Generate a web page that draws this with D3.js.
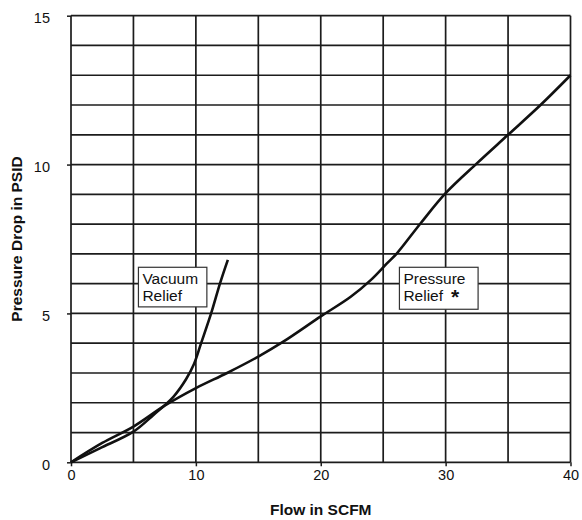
<!doctype html>
<html>
<head>
  <meta charset="utf-8">
  <title>Pressure drop vs flow</title>
  <script src="https://cdn.jsdelivr.net/npm/d3@7"></script>
  <style>
    body { margin: 0; background: #fff; }
    svg text { font-family: "Liberation Sans", Arial, Helvetica, sans-serif; fill: #111; }
  </style>
</head>
<body>
  <svg id="chart" width="582" height="520"></svg>

  <script>
  // values
  const xTicks = [0, 10, 20, 30, 40];
  const yTicks = [0, 5, 10, 15];
  const xGrid = [0, 5, 10, 15, 20, 25, 30, 35, 40];
  const yGrid = [0, 1, 2, 3, 4, 5, 6, 7, 8, 9, 10, 11, 12, 13, 14, 15];

  const pressureFlow = [0, 2.5, 5, 7.5, 10, 12.5, 15, 17, 20, 22.4, 24, 25.3, 26.1, 28, 30, 32.5, 35, 37.6, 40];
  const pressureDrop = [0, 0.65, 1.2, 1.9, 2.49, 3.0, 3.55, 4.05, 4.9, 5.56, 6.12, 6.68, 7.02, 8.03, 9.04, 10.04, 11.0, 12.0, 13.0];

  const vacuumFlow = [0, 2.3, 5, 6.6, 8.2, 9.2, 9.85, 10.42, 11.22, 11.94, 12.56];
  const vacuumDrop = [0, 0.47, 1.03, 1.59, 2.2, 2.78, 3.3, 4.0, 5.0, 6.02, 6.8];

  // annotation boxes: [x0, x1, yTop, yBottom] in data units
  const vacuumBox = [5.4, 10.88, 6.55, 5.22];
  const pressureBox = [26.3, 32.6, 6.55, 5.14];

  let svg = d3.select("#chart");

  let x = d3.scaleLinear().domain([0, 40]).range([71, 570.5]);
  let y = d3.scaleLinear().domain([0, 15]).range([462.3, 15.7]);

  // grid
  let grid = svg.append("g")
    .attr("stroke", "#1c1c1c")
    .attr("stroke-width", 1.7);

  grid.selectAll(".vline")
    .data(xGrid)
    .enter().append("line")
    .attr("x1", d => x(d)).attr("x2", d => x(d))
    .attr("y1", y(0)).attr("y2", y(15));

  grid.selectAll(".hline")
    .data(yGrid)
    .enter().append("line")
    .attr("x1", x(0)).attr("x2", x(40))
    .attr("y1", d => y(d)).attr("y2", d => y(d));

  // axes
  let xAxis = svg.append("g")
    .attr("transform", "translate(0," + y(0) + ")")
    .call(d3.axisBottom(x).tickValues(xTicks).tickSize(4).tickPadding(3));

  let yAxis = svg.append("g")
    .attr("transform", "translate(" + x(0) + ",0)")
    .call(d3.axisLeft(y).tickValues(yTicks).tickSize(4).tickPadding(17));

  [xAxis, yAxis].forEach(a => {
    a.select(".domain").remove();
    a.selectAll(".tick line").attr("stroke", "#1c1c1c").attr("stroke-width", 1.5);
    a.selectAll(".tick text")
      .style("font-family", "'Liberation Sans', Arial, sans-serif")
      .style("font-size", "14.5px")
      .attr("fill", "#111");
  });
  yAxis.selectAll(".tick text").attr("dy", "0.5em");

  // curves
  let line = d3.line()
    .x(d => x(d[0]))
    .y(d => y(d[1]))
    .curve(d3.curveCatmullRom.alpha(0.5));

  svg.append("path")
    .datum(pressureFlow.map((f, i) => [f, pressureDrop[i]]))
    .attr("d", line)
    .attr("fill", "none")
    .attr("stroke", "#111")
    .attr("stroke-width", 2.6);

  svg.append("path")
    .datum(vacuumFlow.map((f, i) => [f, vacuumDrop[i]]))
    .attr("d", line)
    .attr("fill", "none")
    .attr("stroke", "#111")
    .attr("stroke-width", 2.6);

  // annotation boxes
  function labelBox(box, lines, star) {
    let g = svg.append("g");
    g.append("rect")
      .attr("x", x(box[0]))
      .attr("y", y(box[2]))
      .attr("width", x(box[1]) - x(box[0]))
      .attr("height", y(box[3]) - y(box[2]))
      .attr("fill", "#fff")
      .attr("stroke", "#333")
      .attr("stroke-width", 1.2);
    lines.forEach((t, i) => {
      let txt = g.append("text")
        .attr("x", x(box[0]) + 4)
        .attr("y", y(box[2]) + 16.5 + i * 17.7)
        .style("font-size", "15.5px")
        .text(t);
      // the asterisk sits after the last line
      if (star && i === lines.length - 1) {
        txt.append("tspan")
          .attr("dx", 8)
          .attr("dy", 3)
          .style("font-size", "21px")
          .style("font-weight", "bold")
          .text("*");
      }
    });
  }

  labelBox(vacuumBox, ["Vacuum", "Relief"], false);
  labelBox(pressureBox, ["Pressure", "Relief"], true);

  // axis titles
  svg.append("text")
    .attr("x", (x(0) + x(40)) / 2)
    .attr("y", 515)
    .attr("text-anchor", "middle")
    .style("font-size", "15.5px")
    .style("font-weight", "bold")
    .text("Flow in SCFM");

  svg.append("text")
    .attr("transform", "translate(22," + (y(0) + y(15)) / 2 + ") rotate(-90)")
    .attr("text-anchor", "middle")
    .style("font-size", "15.5px")
    .style("font-weight", "bold")
    .text("Pressure Drop in PSID");
  </script>
</body>
</html>
